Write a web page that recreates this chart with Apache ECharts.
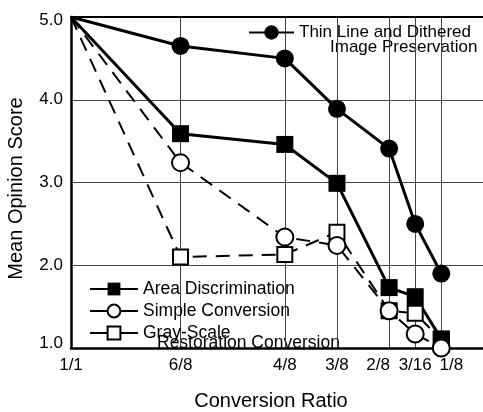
<!DOCTYPE html>
<html>
<head>
<meta charset="utf-8">
<script src="https://cdn.jsdelivr.net/npm/echarts@6/dist/echarts.min.js"></script>
<style>
    html, body { margin: 0; padding: 0; background: #fff; }
    #chart { width: 483px; height: 412px; }
</style>
</head>
<body>
<div id="chart"></div>
<script>
    // conversion ratios and where they sit on the (non uniform) x axis
    var ratioLabels = ['1/1', '6/8', '4/8', '3/8', '2/8', '3/16', '1/8'];
    var ratioPos = [0, 4.2, 8.2, 10.2, 12.2, 13.2, 14.2];
    var yTicks = [1, 2, 3, 4, 5];

    // mean opinion scores
    var thinLine = [5.0, 4.65, 4.50, 3.89, 3.41, 2.50, 1.90];
    var areaDisc = [5.0, 3.59, 3.46, 2.99, 1.73, 1.62, 1.11];
    var grayScale = [5.0, 2.10, 2.13, 2.40, 1.45, 1.42, 1.10];
    var simpleConv = [5.0, 3.24, 2.34, 2.24, 1.45, 1.17, 1.00];

    var font = 'Liberation Sans, Arial, Helvetica, sans-serif';

    function points(vals) {
        return vals.map(function (v, i) {
            // no marker at 1/1, all curves just start in the corner
            if (i === 0) return {value: [ratioPos[i], v], symbol: 'none'};
            return [ratioPos[i], v];
        });
    }

    function ratioName(v) {
        var best = 0;
        for (var i = 1; i < ratioPos.length; i++) {
            if (Math.abs(ratioPos[i] - v) < Math.abs(ratioPos[best] - v)) best = i;
        }
        return ratioLabels[best];
    }

    var label17 = {fontSize: 17, fontFamily: font, color: '#000'};

    var myChart = echarts.init(document.getElementById('chart'));
    myChart.setOption({
        animation: false,
        backgroundColor: '#fff',
        grid: {left: 71, right: 0, top: 17, bottom: 64, outerBoundsMode: 'none'},
        xAxis: [
            {
                type: 'value', min: 0, max: 15.8, position: 'bottom',
                axisLine: {show: true, onZero: false, lineStyle: {color: '#000', width: 2.5}},
                axisTick: {show: false, customValues: ratioPos},
                axisLabel: {
                    customValues: ratioPos, margin: 9,
                    fontSize: 17, fontFamily: font, color: '#000',
                    formatter: function (v) {
                        var t = ratioName(v);
                        if (t === '2/8') return '{l|' + t + '}';
                        if (t === '1/8') return '{r|' + t + '}';
                        return t;
                    },
                    rich: {
                        l: Object.assign({padding: [0, 22, 0, 0]}, label17),
                        r: Object.assign({padding: [0, 0, 0, 20]}, label17)
                    }
                },
                splitLine: {show: true, lineStyle: {color: '#444', width: 1}},
                name: 'Conversion Ratio', nameLocation: 'middle', nameGap: 43,
                nameTextStyle: {fontSize: 20, fontFamily: font, color: '#000', padding: [0, 12, 0, 0]}
            },
            {
                type: 'value', min: 0, max: 15.8, position: 'top',
                axisLine: {show: true, onZero: false, lineStyle: {color: '#000', width: 2}},
                axisTick: {show: false}, axisLabel: {show: false}, splitLine: {show: false}
            }
        ],
        yAxis: {
            type: 'value', min: yTicks[0], max: yTicks[yTicks.length - 1], interval: 1,
            axisLine: {show: true, lineStyle: {color: '#000', width: 2.5}},
            axisTick: {show: false},
            axisLabel: {
                margin: 8, fontSize: 17, fontFamily: font, color: '#000',
                formatter: function (v) {
                    if (v === 1) return '{b|1.0}';
                    if (v === 5) return '{t|5.0}';
                    return v.toFixed(1);
                },
                rich: {
                    b: Object.assign({padding: [0, 0, 10, 0]}, label17),
                    t: Object.assign({padding: [6, 0, 0, 0]}, label17)
                }
            },
            splitLine: {show: true, lineStyle: {color: '#444', width: 1}},
            name: 'Mean Opinion Score', nameLocation: 'middle', nameGap: 45,
            nameTextStyle: {fontSize: 20, fontFamily: font, color: '#000', padding: [0, 12, 0, 0]}
        },
        legend: [
            {
                data: ['Thin Line and Dithered Image Preservation'],
                left: 248, top: 24, padding: 0, itemWidth: 45, itemHeight: 18,
                selectedMode: false,
                formatter: function () { return 'Thin Line and Dithered'; },
                textStyle: {fontSize: 17, fontFamily: font, color: '#000'},
                lineStyle: {type: 'solid', width: 2}
            },
            {
                data: ['Area Discrimination', 'Simple Conversion', 'Gray-Scale Restoration Conversion'],
                orient: 'vertical', left: 89, top: 280, padding: 0, itemGap: 4,
                itemWidth: 48, itemHeight: 16, selectedMode: false,
                formatter: function (n) { return n.indexOf('Gray') === 0 ? 'Gray-Scale' : n; },
                textStyle: {fontSize: 17.5, fontFamily: font, color: '#000'},
                lineStyle: {type: 'solid', width: 2}
            }
        ],
        graphic: [
            {type: 'text', left: 330, top: 39, style: {text: 'Image Preservation', fontSize: 17, fontFamily: font, fill: '#000'}},
            {type: 'text', left: 157, top: 334, style: {text: 'Restoration Conversion', fontSize: 17.5, fontFamily: font, fill: '#000'}}
        ],
        series: [
            {
                name: 'Thin Line and Dithered Image Preservation', type: 'line',
                data: points(thinLine),
                symbol: 'circle', symbolSize: 18,
                itemStyle: {color: '#000'},
                lineStyle: {color: '#000', width: 3}
            },
            {
                name: 'Gray-Scale Restoration Conversion', type: 'line',
                data: points(grayScale),
                symbol: 'rect', symbolSize: 15,
                itemStyle: {color: '#fff', borderColor: '#000', borderWidth: 2},
                lineStyle: {color: '#000', width: 2, type: [14, 9]}
            },
            {
                name: 'Area Discrimination', type: 'line',
                data: points(areaDisc),
                symbol: 'rect', symbolSize: 17,
                itemStyle: {color: '#000'},
                lineStyle: {color: '#000', width: 3}
            },
            {
                name: 'Simple Conversion', type: 'line',
                data: points(simpleConv),
                symbol: 'circle', symbolSize: 17,
                itemStyle: {color: '#fff', borderColor: '#000', borderWidth: 2},
                lineStyle: {color: '#000', width: 2, type: [14, 9]}
            }
        ]
    });
</script>
</body>
</html>
